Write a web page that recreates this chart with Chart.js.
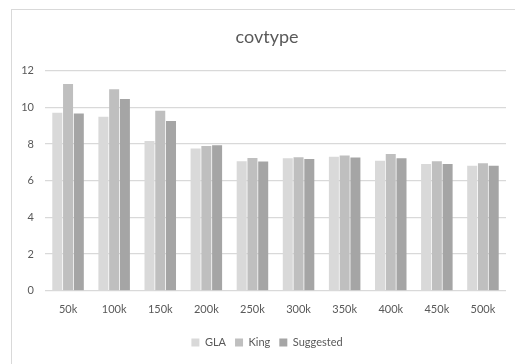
<!DOCTYPE html>
<html>
<head>
<meta charset="utf-8">
<script src="https://cdn.jsdelivr.net/npm/chart.js@4"></script>
<style>
  html, body { margin: 0; padding: 0; background: #fff; overflow: hidden; }
  #wrap { position: relative; width: 515px; height: 364px; overflow: hidden; }
  #frame { position: absolute; left: 11px; top: 9px; width: 620px; height: 420px; border: 1px solid #d9d9d9; box-sizing: border-box; }
  canvas { position: absolute; left: 0; top: 0; }
</style>
</head>
<body>
<div id="wrap">
  <div id="frame"></div>
  <canvas id="chart" width="524" height="364"></canvas>
</div>
<script>
const chartTitle = 'covtype';
const categories = ['50k', '100k', '150k', '200k', '250k', '300k', '350k', '400k', '450k', '500k'];
const glaValues = [9.70, 9.48, 8.17, 7.75, 7.06, 7.22, 7.31, 7.09, 6.91, 6.82];
const kingValues = [11.27, 10.98, 9.81, 7.89, 7.24, 7.28, 7.38, 7.46, 7.06, 6.95];
const suggestedValues = [9.66, 10.45, 9.26, 7.93, 7.04, 7.18, 7.26, 7.22, 6.91, 6.82];
const yTicks = [0, 2, 4, 6, 8, 10, 12];

const textColor = '#595959';
const fontFamily = 'Lato, "Open Sans", sans-serif';

new Chart(document.getElementById('chart'), {
  type: 'bar',
  data: {
    labels: categories,
    datasets: [
      { label: 'GLA', data: glaValues, backgroundColor: '#d9d9d9' },
      { label: 'King', data: kingValues, backgroundColor: '#bfbfbf' },
      { label: 'Suggested', data: suggestedValues, backgroundColor: '#a5a5a5' }
    ]
  },
  options: {
    responsive: false,
    animation: false,
    devicePixelRatio: 1,
    layout: { padding: { left: 10, right: 0, top: 0, bottom: 6 } },
    datasets: { bar: { categoryPercentage: 0.7, barPercentage: 0.93 } },
    plugins: {
      title: {
        display: true,
        text: chartTitle,
        color: textColor,
        font: { family: fontFamily, size: 18, weight: 'normal' },
        padding: { top: 26, bottom: 23 }
      },
      legend: {
        position: 'bottom',
        labels: {
          color: textColor,
          font: { family: fontFamily, size: 11 },
          boxWidth: 8,
          boxHeight: 8,
          padding: 9
        }
      },
      tooltip: { enabled: false }
    },
    scales: {
      x: {
        grid: { display: false, drawTicks: false },
        border: { display: false },
        ticks: { color: textColor, font: { family: fontFamily, size: 11 }, padding: 12 }
      },
      y: {
        min: 0,
        max: 12,
        afterFit: (scale) => { scale.width = 35; },
        afterBuildTicks: (scale) => { scale.ticks = yTicks.map(v => ({ value: v })); },
        grid: { color: '#d9d9d9', lineWidth: 1.3, drawTicks: false },
        border: { display: false },
        ticks: { color: textColor, font: { family: fontFamily, size: 11 }, padding: 11 }
      },
      // empty right-hand margin that keeps the plot area clear of the frame edge
      yRight: {
        position: 'right',
        display: true,
        grid: { display: false, drawTicks: false },
        border: { display: false },
        ticks: { display: false },
        afterFit: (scale) => { scale.width = 18; }
      }
    }
  }
});
</script>
</body>
</html>
